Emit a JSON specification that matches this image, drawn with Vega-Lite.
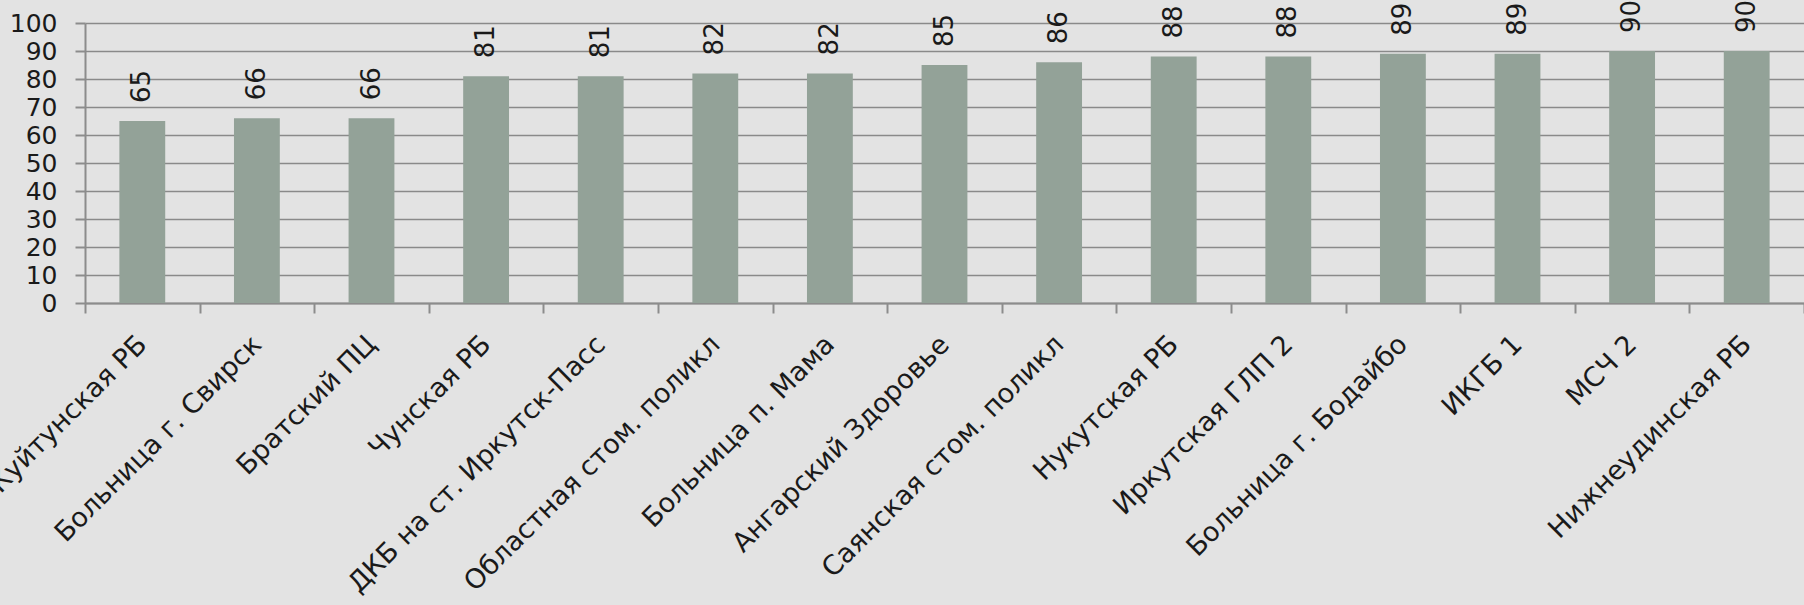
{
  "$schema": "https://vega.github.io/schema/vega-lite/v6.json",
  "autosize": {"type": "none"},
  "width": 1719,
  "height": 280,
  "padding": {"left": 85, "top": 23, "right": 0, "bottom": 302},
  "background": "#e3e3e3",
  "config": {
    "view": {"stroke": null},
    "font": "DejaVu Sans"
  },
  "data": {
    "values": [
      {"name": "Куйтунская РБ", "value": 65},
      {"name": "Больница г. Свирск", "value": 66},
      {"name": "Братский ПЦ", "value": 66},
      {"name": "Чунская РБ", "value": 81},
      {"name": "ДКБ на ст. Иркутск-Пасс", "value": 81},
      {"name": "Областная стом. поликл", "value": 82},
      {"name": "Больница п. Мама", "value": 82},
      {"name": "Ангарский Здоровье", "value": 85},
      {"name": "Саянская стом. поликл", "value": 86},
      {"name": "Нукутская РБ", "value": 88},
      {"name": "Иркутская ГЛП 2", "value": 88},
      {"name": "Больница г. Бодайбо", "value": 89},
      {"name": "ИКГБ 1", "value": 89},
      {"name": "МСЧ 2", "value": 90},
      {"name": "Нижнеудинская РБ", "value": 90}
    ]
  },
  "encoding": {
    "x": {
      "field": "name",
      "type": "nominal",
      "sort": null,
      "scale": {"paddingInner": 0, "paddingOuter": 0},
      "axis": {
        "title": null,
        "labelAngle": -45,
        "labelAlign": "right",
        "labelBaseline": "middle",
        "labelFontSize": 27,
        "labelColor": "#1a1a1a",
        "labelPadding": 27,
        "labelLimit": 400,
        "tickBand": "extent",
        "tickSize": 10,
        "tickColor": "#8c8c8c",
        "tickWidth": 2,
        "domainColor": "#8c8c8c",
        "domainWidth": 2,
        "grid": false
      }
    },
    "y": {
      "field": "value",
      "type": "quantitative",
      "scale": {"domain": [0, 100], "nice": false},
      "axis": {
        "title": null,
        "values": [0, 10, 20, 30, 40, 50, 60, 70, 80, 90, 100],
        "labelFontSize": 25,
        "labelColor": "#1a1a1a",
        "labelPadding": 18,
        "tickSize": 10,
        "tickColor": "#8c8c8c",
        "tickWidth": 2,
        "domainColor": "#8c8c8c",
        "domainWidth": 2,
        "grid": true,
        "gridColor": "#8a8a8a",
        "gridWidth": 1.5,
        "gridOpacity": 1
      }
    }
  },
  "layer": [
    {"mark": {"type": "bar", "color": "#93a298", "width": {"band": 0.4}}},
    {
      "mark": {
        "type": "text",
        "angle": 270,
        "align": "left",
        "baseline": "middle",
        "dx": 18,
        "fontSize": 26,
        "color": "#1a1a1a"
      },
      "encoding": {"text": {"field": "value", "type": "quantitative"}}
    }
  ]
}
